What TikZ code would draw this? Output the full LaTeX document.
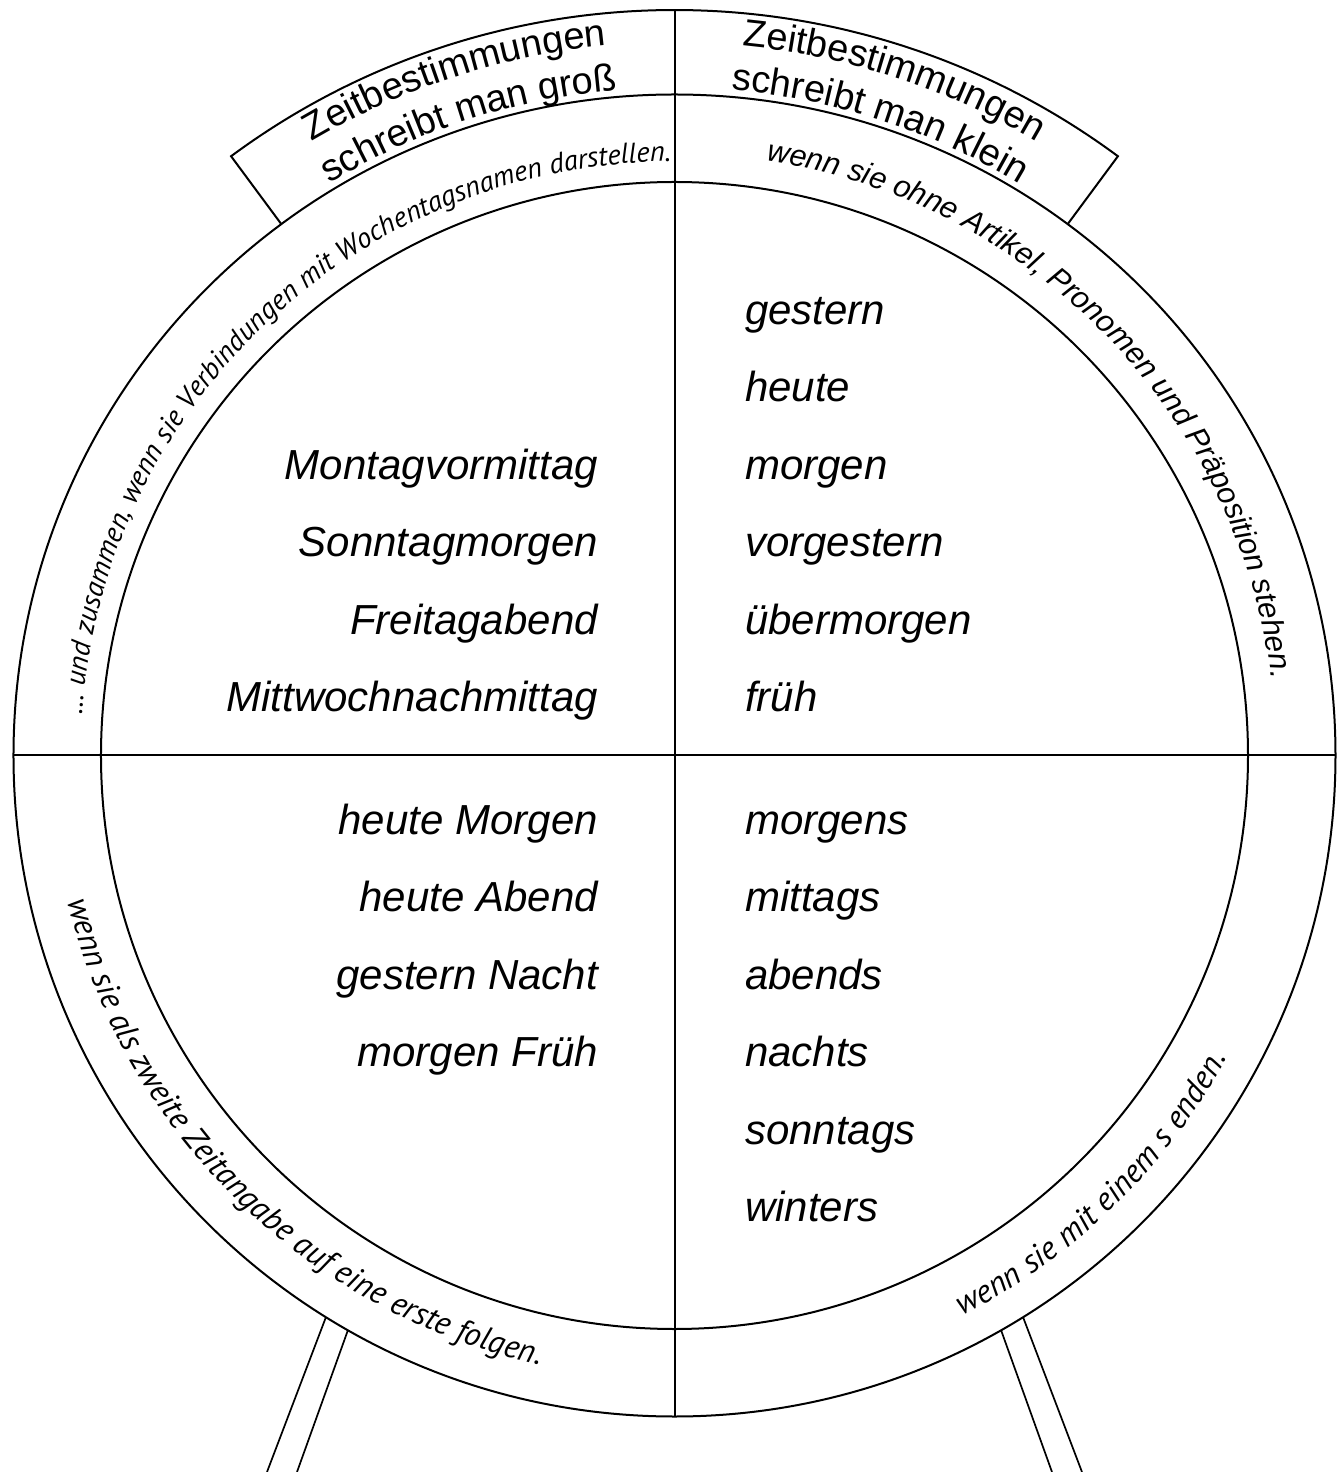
\documentclass[tikz,border=0pt]{standalone}
\usepackage{fontspec}
\newfontfamily\helv{Liberation Sans}
\newfontfamily\myriad{PT Sans}
\usetikzlibrary{decorations.text}

\newcommand\tabfont{\helv\fontsize{38}{40}\selectfont}
\newcommand\notefont{\myriad\itshape\fontsize{28.5}{30}\selectfont}
\newcommand\notefontb{\myriad\itshape\fontsize{32.5}{34}\selectfont}
\newcommand\notefonth{\helv\itshape\fontsize{30.5}{32}\selectfont}

\tikzset{
  rim/.style={line width=2pt},
  leg/.style={line width=1.7pt},
  word/.style={font=\helv\itshape\fontsize{42}{50}\selectfont, inner sep=0pt},
  ringtext/.style={decorate, decoration={text along path, text align=center, text={#1}}},
}

\begin{document}
\begin{tikzpicture}[x=1pt, y=1pt]
\useasboundingbox (-674.5,-716.5) rectangle (664.5,755.5);
\coordinate (c) at (0,0);
% wheel
\draw[rim] (c) circle[radius=661pt];
\draw[rim] (c) circle[radius=573.5pt];
\draw[rim] (0,745.5) -- (0,-661);
\draw[rim] (-661,0) -- (661,0);
\draw[rim] (53.5:661) -- (53.5:745.5) arc[start angle=53.5, end angle=126.5, radius=745.5pt] -- (126.5:661);
% stand
\draw[leg] (-348.5,-561.5) -- (-407.5,-716.5);
\draw[leg] (-326.5,-574.5) -- (-377.5,-716.5);
\draw[leg] (348.5,-561.5) -- (407.5,-716.5);
\draw[leg] (326.5,-574.5) -- (377.5,-716.5);
% tab
\path[ringtext={|\tabfont|Zeitbestimmungen}] (126:713) arc[start angle=126, end angle=90, radius=713pt];
\path[ringtext={|\tabfont|schreibt man groß}] (126:668) arc[start angle=126, end angle=90, radius=668pt];
\path[ringtext={|\tabfont|Zeitbestimmungen}] (90:713) arc[start angle=90, end angle=54, radius=713pt];
\path[ringtext={|\tabfont|schreibt man klein}] (90:668) arc[start angle=90, end angle=54, radius=668pt];
% ring
\path[ringtext={|\notefont|… und zusammen, wenn sie Verbindungen mit Wochentagsnamen darstellen.}] (177:594) arc[start angle=177, end angle=89.5, radius=594pt];
\path[ringtext={|\notefonth|wenn sie ohne Artikel, Pronomen und Präposition stehen.}] (83.5:602) arc[start angle=83.5, end angle=5, radius=602pt];
\path[ringtext={|\notefontb|wenn sie als zweite Zeitangabe auf eine erste folgen.}] (191:624) arc[start angle=191, end angle=260, radius=624pt];
\path[ringtext={|\notefontb|wenn sie mit einem s enden.}] (294:630) arc[start angle=294, end angle=334.5, radius=630pt];
% words
\foreach \w [count=\i] in {gestern,heute,morgen,vorgestern,übermorgen,früh}
  \node[word, anchor=mid west] (ro\i) at (70.5, {433.5-(\i-1)*77.5}) {\w};
\foreach \w [count=\i] in {Montagvormittag,Sonntagmorgen,Freitagabend,Mittwochnachmittag}
  \node[word, anchor=mid east] (lo\i) at (-76.5, {433.5-(\i+1)*77.5}) {\w};
\foreach \w [count=\i] in {morgens,mittags,abends,nachts,sonntags,winters}
  \node[word, anchor=mid west] (ru\i) at (70.5, {-76.5-(\i-1)*77.5}) {\w};
\foreach \w [count=\i] in {heute Morgen,heute Abend,gestern Nacht,morgen Früh}
  \node[word, anchor=mid east] (lu\i) at (-76.5, {-76.5-(\i-1)*77.5}) {\w};
\end{tikzpicture}
\end{document}
